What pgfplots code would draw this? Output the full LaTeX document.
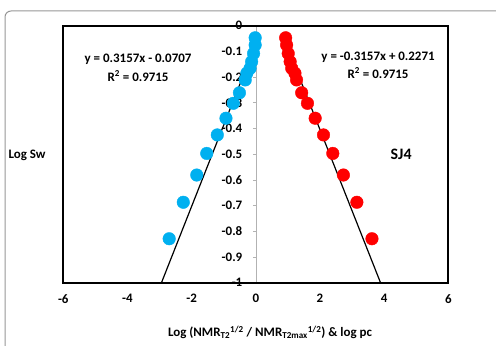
\documentclass[border=0pt]{standalone}
\usepackage{fontspec}
\setmainfont{Carlito}
\usepackage{pgfplots}
\pgfplotsset{compat=1.18}
\definecolor{skyb}{RGB}{0,176,240}
\definecolor{framegray}{RGB}{150,150,150}
\begin{document}
\begin{tikzpicture}[x=1bp,y=1bp]
\useasboundingbox (0,0) rectangle (496,345);
\begin{scope}
\clip (0,0) rectangle (496,345);
\draw[framegray, line width=1bp, rounded corners=6bp] (5,-20) -- (5,334) -- (520,334);
\end{scope}
% y axis line at x=0 with tick labels
\begin{axis}[at={(63.3bp,62.3bp)}, anchor=south west, scale only axis,
  width=385bp, height=257bp, xmin=-6, xmax=6, ymin=-1, ymax=0,
  axis x line=none, axis y line=center, hide obscured y ticks=false,
  y axis line style={draw=gray!60, line width=0.6bp, -},
  ytick={-1,-0.9,-0.8,-0.7,-0.6,-0.5,-0.4,-0.3,-0.2,-0.1,0},
  yticklabels={-1,-0.9,-0.8,-0.7,-0.6,-0.5,-0.4,-0.3,-0.2,-0.1,0},
  major tick length=3bp, tick style={draw=gray!60, line width=0.6bp},
  ytick align=outside,
  tick label style={font=\fontsize{13}{15}\selectfont\bfseries},
  yticklabel style={anchor=east, xshift=-7bp},
]
\end{axis}
\begin{axis}[at={(63.3bp,62.3bp)}, anchor=south west, scale only axis,
  width=385bp, height=257bp, xmin=-6, xmax=6, ymin=-1, ymax=0,
  axis lines=box, axis line style={line width=2.3bp, draw=black, -},
  ytick=\empty,
  xtick={-6,-4,-2,0,2,4,6}, major tick length=0pt,
  /pgf/number format/assume math mode=true,
  tick label style={font=\fontsize{13}{15}\selectfont\bfseries},
  xticklabel style={yshift=-8bp},
  xlabel={Log (NMR\textsubscript{T2}\textsuperscript{1/2} / NMR\textsubscript{T2max}\textsuperscript{1/2}) \& log pc},
  every axis x label/.style={at={(axis description cs:0.537,-0.193)}, anchor=center, font=\fontsize{13}{15}\selectfont\bfseries},
  clip=false,
]
\addplot[only marks, mark=*, mark size=6.3bp, mark options={draw=skyb, fill=skyb}] coordinates {
(-0.02,-0.047) (-0.02,-0.075) (-0.07,-0.108) (-0.13,-0.140) (-0.18,-0.166)
(-0.28,-0.185) (-0.33,-0.211) (-0.51,-0.261) (-0.70,-0.302) (-0.93,-0.360)
(-1.20,-0.425) (-1.53,-0.497) (-1.84,-0.581) (-2.26,-0.687) (-2.70,-0.829)};
\addplot[only marks, mark=*, mark size=6.3bp, mark options={draw=red, fill=red}] coordinates {
(0.93,-0.047) (0.96,-0.075) (1.01,-0.108) (1.07,-0.140) (1.12,-0.166)
(1.22,-0.185) (1.27,-0.211) (1.43,-0.261) (1.61,-0.302) (1.85,-0.360)
(2.11,-0.425) (2.40,-0.497) (2.73,-0.581) (3.15,-0.687) (3.62,-0.829)};
\addplot[black, line width=1.2bp] coordinates {(-2.94,-1) (0,-0.0707)};
\addplot[black, line width=1.2bp] coordinates {(0.943,-0.0707) (3.887,-1)};
\node[font=\fontsize{13}{15}\selectfont\bfseries] at (axis cs:-3.67,-0.130) {y = 0.3157x - 0.0707};
\node[font=\fontsize{13}{15}\selectfont\bfseries] at (axis cs:-3.67,-0.196) {R\textsuperscript{2} = 0.9715};
\node[font=\fontsize{13}{15}\selectfont\bfseries] at (axis cs:3.81,-0.122) {y = -0.3157x + 0.2271};
\node[font=\fontsize{13}{15}\selectfont\bfseries] at (axis cs:3.81,-0.184) {R\textsuperscript{2} = 0.9715};
\node[font=\fontsize{16}{18}\selectfont\bfseries] at (axis cs:4.53,-0.50) {SJ4};
\node[font=\fontsize{13}{15}\selectfont\bfseries] at (axis description cs:-0.094,0.497) {Log Sw};
\end{axis}
\end{tikzpicture}
\end{document}
